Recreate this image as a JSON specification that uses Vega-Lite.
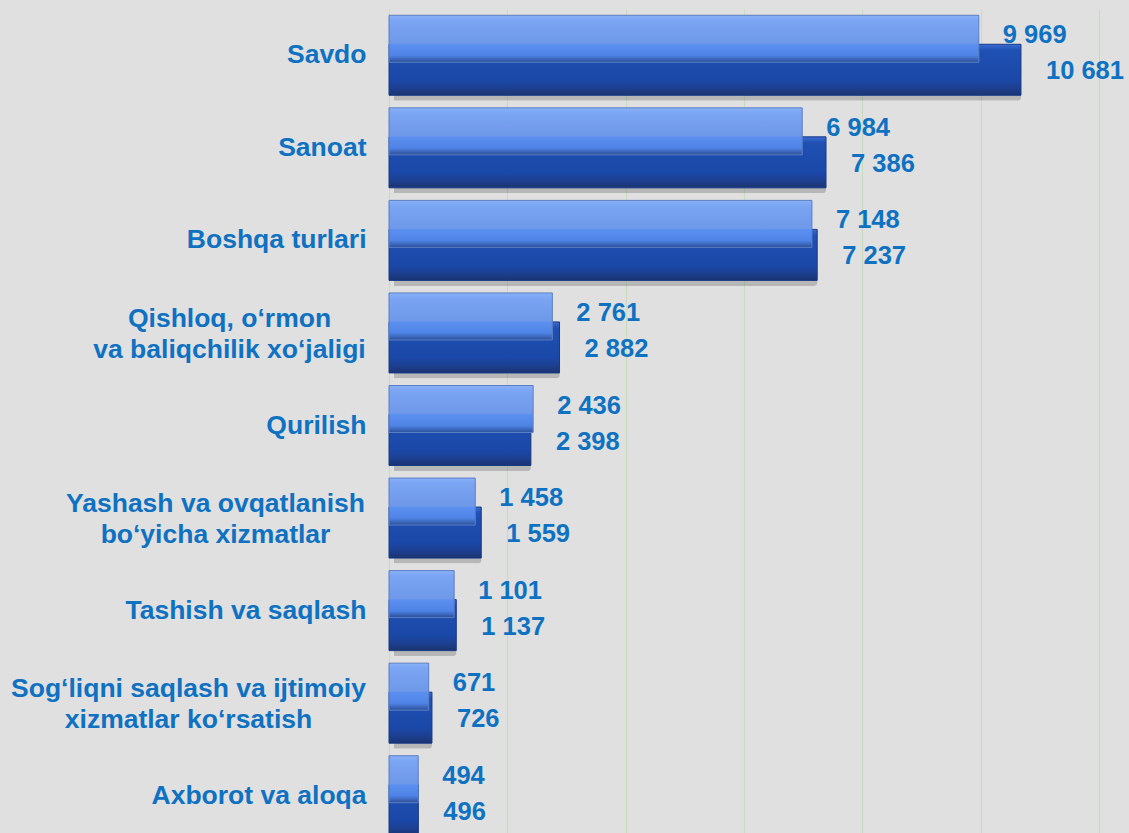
{
  "$schema": "https://vega.github.io/schema/vega-lite/v6.json",
  "autosize": {"type": "none"},
  "padding": {"left": 389, "top": 9, "right": 30, "bottom": 0},
  "width": 710,
  "height": 833,
  "background": "#e0e0e0",
  "config": {
    "view": {"stroke": null},
    "locale": {"number": {"decimal": ",", "thousands": " ", "grouping": [3], "currency": ["", ""]}}
  },
  "data": {
    "values": [
      {"category": "Savdo", "series": "Series 1", "value": 9969},
      {"category": "Savdo", "series": "Series 2", "value": 10681},
      {"category": "Sanoat", "series": "Series 1", "value": 6984},
      {"category": "Sanoat", "series": "Series 2", "value": 7386},
      {"category": "Boshqa turlari", "series": "Series 1", "value": 7148},
      {"category": "Boshqa turlari", "series": "Series 2", "value": 7237},
      {"category": "Qishloq, o‘rmon|va baliqchilik xo‘jaligi", "series": "Series 1", "value": 2761},
      {"category": "Qishloq, o‘rmon|va baliqchilik xo‘jaligi", "series": "Series 2", "value": 2882},
      {"category": "Qurilish", "series": "Series 1", "value": 2436},
      {"category": "Qurilish", "series": "Series 2", "value": 2398},
      {"category": "Yashash va ovqatlanish|bo‘yicha xizmatlar", "series": "Series 1", "value": 1458},
      {"category": "Yashash va ovqatlanish|bo‘yicha xizmatlar", "series": "Series 2", "value": 1559},
      {"category": "Tashish va saqlash", "series": "Series 1", "value": 1101},
      {"category": "Tashish va saqlash", "series": "Series 2", "value": 1137},
      {"category": "Sog‘liqni saqlash va ijtimoiy|xizmatlar ko‘rsatish", "series": "Series 1", "value": 671},
      {"category": "Sog‘liqni saqlash va ijtimoiy|xizmatlar ko‘rsatish", "series": "Series 2", "value": 726},
      {"category": "Axborot va aloqa", "series": "Series 1", "value": 494},
      {"category": "Axborot va aloqa", "series": "Series 2", "value": 496}
    ]
  },
  "encoding": {
    "y": {
      "field": "category",
      "type": "nominal",
      "sort": null,
      "scale": {"paddingInner": 0, "paddingOuter": 0},
      "axis": {
        "title": null,
        "domain": false,
        "ticks": false,
        "tickSize": 0,
        "labelPadding": 23,
        "labelFont": "Liberation Sans",
        "labelFontWeight": "bold",
        "labelFontSize": 26.5,
        "labelColor": "#0f71c2",
        "labelLimit": 0,
        "labelLineHeight": 31,
        "labelBaseline": "middle",
        "labelExpr": "split(datum.label, '|')",
        "labelAlign": {"condition": {"test": "indexof(datum.value, '|') >= 0", "value": "center"}, "value": "right"},
        "labelOffset": {"condition": {"test": "indexof(datum.value, '|') >= 0", "value": -14}, "value": 0},
        "encoding": {
          "labels": {
            "dx": {
              "condition": [
                {"test": "indexof(datum.value, 'Qishloq') >= 0", "value": -137},
                {"test": "indexof(datum.value, 'Yashash') >= 0", "value": -151},
                {"test": "indexof(datum.value, 'ijtimoiy') >= 0", "value": -178}
              ],
              "value": 0
            }
          }
        }
      }
    },
    "x": {
      "field": "value",
      "type": "quantitative",
      "scale": {"domain": [0, 12000], "nice": false},
      "axis": {
        "title": null,
        "labels": false,
        "domain": false,
        "ticks": false,
        "grid": true,
        "gridColor": "#c9dcc2",
        "gridWidth": 1.2,
        "values": [0, 2000, 4000, 6000, 8000, 10000, 12000]
      }
    }
  },
  "layer": [
    {
      "transform": [{"filter": "datum.series == 'Series 2'"}],
      "mark": {"type": "bar", "height": 51, "yOffset": 20, "xOffset": 5, "color": "#000000", "opacity": 0.18, "cornerRadius": 3}
    },
    {
      "transform": [{"filter": "datum.series == 'Series 2'"}],
      "mark": {
        "type": "bar",
        "height": 51,
        "yOffset": 14.5,
        "stroke": "#173a86",
        "strokeWidth": 1,
        "color": {
          "gradient": "linear", "x1": 0, "y1": 0, "x2": 0, "y2": 1,
          "stops": [
            {"offset": 0, "color": "#3a6cd2"},
            {"offset": 0.12, "color": "#1f50b2"},
            {"offset": 0.7, "color": "#1a48a8"},
            {"offset": 0.86, "color": "#1d3f90"},
            {"offset": 1, "color": "#1b3470"}
          ]
        }
      }
    },
    {
      "transform": [{"filter": "datum.series == 'Series 1'"}],
      "mark": {
        "type": "bar",
        "height": 47,
        "yOffset": -16.5,
        "stroke": "#5b7fc4",
        "strokeWidth": 1,
        "color": {
          "gradient": "linear", "x1": 0, "y1": 0, "x2": 0, "y2": 1,
          "stops": [
            {"offset": 0, "color": "#8ab1f8"},
            {"offset": 0.12, "color": "#7aa5f3"},
            {"offset": 0.6, "color": "#6e98e8"},
            {"offset": 0.62, "color": "#5b90f0"},
            {"offset": 0.85, "color": "#4f84e6"},
            {"offset": 1, "color": "#2c4f98"}
          ]
        }
      }
    },
    {
      "transform": [{"filter": "datum.series == 'Series 1'"}],
      "mark": {"type": "text", "align": "left", "baseline": "middle", "dx": 24, "yOffset": -20, "font": "Liberation Sans", "fontWeight": "bold", "fontSize": 25.5, "color": "#0f71c2"},
      "encoding": {"text": {"field": "value", "type": "quantitative", "format": ",d"}}
    },
    {
      "transform": [{"filter": "datum.series == 'Series 2'"}],
      "mark": {"type": "text", "align": "left", "baseline": "middle", "dx": 25, "yOffset": 16, "font": "Liberation Sans", "fontWeight": "bold", "fontSize": 25.5, "color": "#0f71c2"},
      "encoding": {"text": {"field": "value", "type": "quantitative", "format": ",d"}}
    }
  ]
}
